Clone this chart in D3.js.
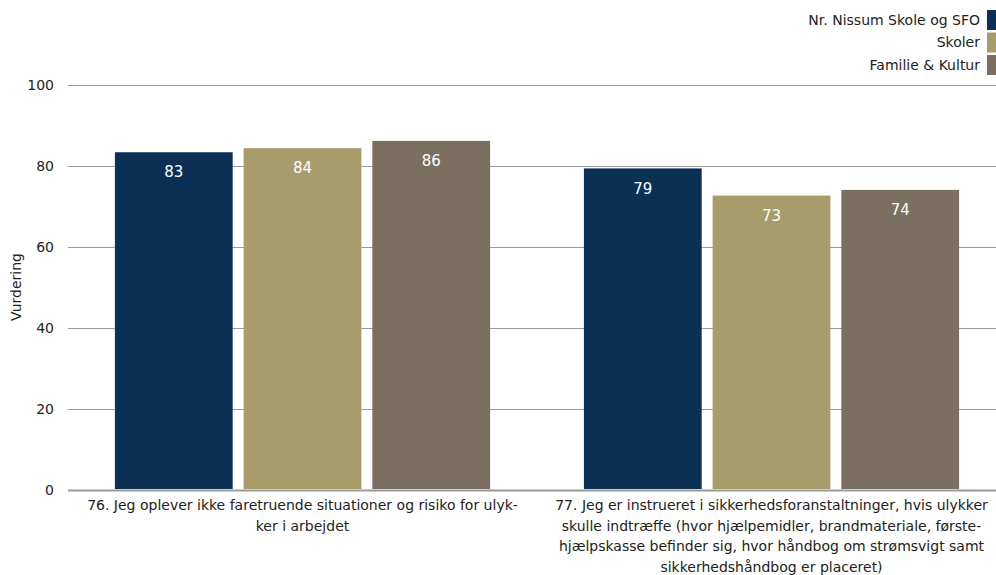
<!DOCTYPE html>
<html><head><meta charset="utf-8">
<script src="https://cdn.jsdelivr.net/npm/d3@7"></script>
<style>body{margin:0;background:#fff}svg{display:block}text{font-family:"DejaVu Sans",sans-serif}</style>
</head><body>
<svg id="c" width="996" height="575"></svg>
<script>
const categories = ["76", "77"];
const categoryLines = [
  ["76. Jeg oplever ikke faretruende situationer og risiko for ulyk-", "ker i arbejdet"],
  ["77. Jeg er instrueret i sikkerhedsforanstaltninger, hvis ulykker", "skulle indtræffe (hvor hjælpemidler, brandmateriale, første-", "hjælpskasse befinder sig, hvor håndbog om strømsvigt samt", "sikkerhedshåndbog er placeret)"]
];
const seriesNames = ["Nr. Nissum Skole og SFO", "Skoler", "Familie & Kultur"];
const seriesColors = ["#0c2f56", "#a99c6b", "#7b705f"];
const nrNissum = [83.4, 79.4];
const skoler = [84.4, 72.7];
const familie = [86.2, 74.1];
const seriesValues = [nrNissum, skoler, familie];
const yTicks = [0, 20, 40, 60, 80, 100];
const yTitle = "Vurdering";

const svg = d3.select("#c");
const y = d3.scaleLinear().domain([0, 100]).range([490, 85]);
const x0 = d3.scaleBand().domain(categories).range([68, 1006]).paddingInner(0.2).paddingOuter(0.1);
const x1 = d3.scaleBand().domain(seriesNames).range([0, x0.bandwidth()]).paddingInner(0.085).paddingOuter(0);

// gridlines
svg.append("g").selectAll("line").data(yTicks).join("line")
  .attr("x1", 68).attr("x2", 996)
  .attr("y1", d => Math.round(y(d)) + 0.5).attr("y2", d => Math.round(y(d)) + 0.5)
  .attr("stroke", d => d === 0 ? "#9a9a9a" : "#9a9a9a").attr("stroke-width", d => d === 0 ? 2 : 1);

// y tick labels
svg.append("g").selectAll("text").data(yTicks).join("text")
  .attr("x", 54).attr("y", d => y(d)).attr("dy", "0.35em")
  .attr("text-anchor", "end").attr("font-size", 14).attr("fill", "#222")
  .text(d => d);

svg.append("text").attr("transform", "translate(21,287) rotate(-90)")
  .attr("text-anchor", "middle").attr("font-size", 14).attr("fill", "#222").text(yTitle);

// bars
const flat = [];
categories.forEach((c, ci) => seriesNames.forEach((s, si) => flat.push({c, s, si, v: seriesValues[si][ci]})));
const bars = svg.append("g");
bars.selectAll("rect").data(flat).join("rect")
  .attr("x", d => x0(d.c) + x1(d.s)).attr("width", x1.bandwidth())
  .attr("y", d => y(d.v)).attr("height", d => y(0) - y(d.v) - 1)
  .attr("fill", d => seriesColors[d.si]);
bars.selectAll("text").data(flat).join("text")
  .attr("x", d => x0(d.c) + x1(d.s) + x1.bandwidth() / 2)
  .attr("y", d => y(d.v) + 20).attr("dy", "0.35em")
  .attr("text-anchor", "middle").attr("font-size", 15).attr("fill", "#fff")
  .text(d => d3.format(".0f")(d.v));

// category labels
categories.forEach((c, ci) => {
  const t = svg.append("text").attr("text-anchor", "middle").attr("font-size", 14).attr("fill", "#222");
  categoryLines[ci].forEach((ln, li) => {
    t.append("tspan").attr("x", x0(c) + x0.bandwidth() / 2).attr("y", 510 + li * 20.7).text(ln);
  });
});

// legend
const lg = svg.append("g");
seriesNames.forEach((s, i) => {
  lg.append("rect").attr("x", 987).attr("y", 10 + i * 22.5).attr("width", 10).attr("height", 20).attr("fill", seriesColors[i]);
  lg.append("text").attr("x", 980).attr("y", 20 + i * 22.5).attr("dy", "0.35em")
    .attr("text-anchor", "end").attr("font-size", 14).attr("fill", "#222").text(s);
});
</script>
</body></html>
